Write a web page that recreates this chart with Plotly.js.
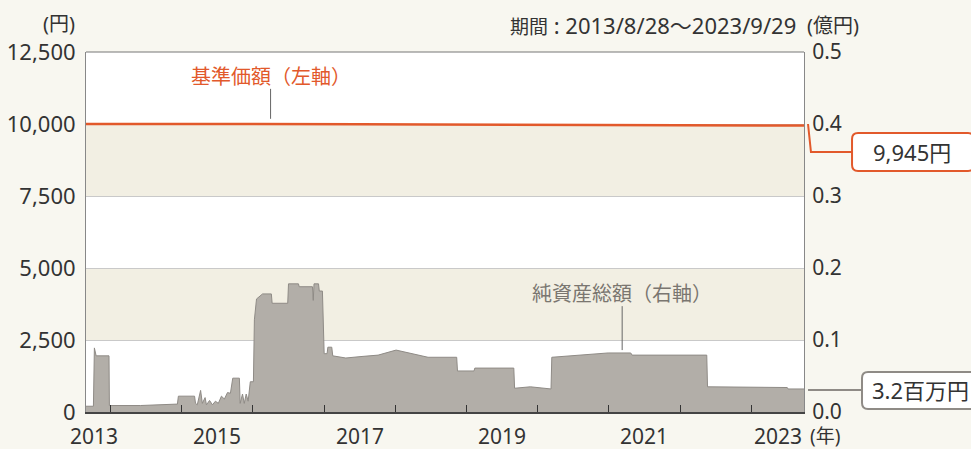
<!DOCTYPE html>
<html>
<head>
<meta charset="utf-8">
<script src="https://cdn.plot.ly/plotly-3.0.1.min.js"></script>
<style>
html,body{margin:0;padding:0;background:#f8f7f0;}
#chart{width:971px;height:449px;}
</style>
</head>
<body>
<div id="chart"></div>
<script>
// 基準価額 (円, left axis)
const navDates = ['2013-08-28','2014-06-30','2015-06-30','2016-06-30','2017-06-30','2018-06-30','2019-06-30','2020-06-30','2021-06-30','2022-06-30','2023-09-29'];
const navValues = [10000,10002,10005,10010,9995,9985,9978,9970,9965,9955,9945];

// 純資産総額 (億円, right axis)
const assetDates = ['2013-08-28','2013-10-05','2013-10-10','2013-10-19','2013-12-24','2013-12-26','2014-06-03','2014-12-10','2014-12-15','2015-03-08','2015-03-13','2015-03-22','2015-04-08','2015-04-17','2015-05-01','2015-05-08','2015-05-24','2015-06-08','2015-06-23','2015-07-08','2015-07-24','2015-08-08','2015-08-24','2015-09-08','2015-09-20','2015-10-24','2015-10-28','2015-11-09','2015-11-18','2015-11-28','2015-12-08','2015-12-19','2016-01-04','2016-01-09','2016-01-20','2016-02-20','2016-04-05','2016-04-09','2016-06-28','2016-07-02','2016-08-22','2016-08-26','2016-11-02','2016-11-06','2016-11-10','2016-12-03','2016-12-07','2016-12-23','2017-01-01','2017-01-16','2017-01-20','2017-02-09','2017-02-14','2017-04-22','2017-07-09','2017-10-05','2018-01-05','2018-06-18','2018-11-12','2018-11-16','2019-02-09','2019-02-13','2019-09-01','2019-09-05','2019-11-25','2020-02-23','2020-03-10','2020-03-14','2020-07-27','2020-12-28','2021-04-23','2021-04-30','2022-05-18','2022-05-22','2023-07-05','2023-07-09','2023-09-29'];
const assetValues = [0.008,0.008,0.089,0.078,0.078,0.009,0.009,0.011,0.022,0.022,0.012,0.010,0.030,0.012,0.020,0.010,0.016,0.010,0.015,0.012,0.022,0.018,0.027,0.026,0.047,0.047,0.012,0.025,0.012,0.025,0.015,0.042,0.042,0.128,0.157,0.164,0.164,0.151,0.151,0.178,0.178,0.174,0.174,0.155,0.178,0.178,0.168,0.168,0.081,0.081,0.090,0.090,0.078,0.075,0.077,0.079,0.086,0.076,0.076,0.057,0.057,0.061,0.061,0.033,0.035,0.032,0.032,0.076,0.079,0.082,0.082,0.079,0.079,0.035,0.034,0.032,0.032];

const yTicks = [0,2500,5000,7500,10000,12500];
const y2Ticks = [0,0.1,0.2,0.3,0.4,0.5];
const yearTicks = ['2014-01-01','2015-01-01','2016-01-01','2017-01-01','2018-01-01','2019-01-01','2020-01-01','2021-01-01','2022-01-01','2023-01-01'];
const xLabelPos = ['2013-10-10','2015-07-02','2017-07-02','2019-07-02','2021-07-02','2023-05-18'];
const xLabelText = ['2013','2015','2017','2019','2021','2023'];

const FONT = '"Noto Sans", "Noto Sans CJK JP", sans-serif';
const TXT = '#333333';
const ORANGE = '#e2592b';

const traces = [
  {x: navDates, y: navValues, type:'scatter', mode:'lines', yaxis:'y', xaxis:'x',
   line:{color:ORANGE, width:2.5}, hoverinfo:'skip'},
  {x: assetDates, y: assetValues, type:'scatter', mode:'lines', yaxis:'y2', xaxis:'x',
   fill:'tozeroy', fillcolor:'#b2aea8', line:{color:'#8f8b86', width:1}, hoverinfo:'skip'}
];

const annotations = [];
xLabelPos.forEach((d,i)=>annotations.push({x:d, xref:'x', y:-0.066, yref:'paper', text:xLabelText[i], showarrow:false, xanchor:'center', yanchor:'middle', font:{size:21, color:TXT, family:FONT}}));
annotations.push({x:1.0056, xref:'paper', y:-0.068, yref:'paper', text:'(年)', showarrow:false, xanchor:'left', yanchor:'middle', font:{size:19, color:TXT, family:FONT}});
annotations.push({x:-0.0125, xref:'paper', y:1.08, yref:'paper', text:'(円)', showarrow:false, xanchor:'right', yanchor:'middle', font:{size:20, color:TXT, family:FONT}});
annotations.push({x:0.5877, xref:'paper', y:1.075, yref:'paper', text:'<span style="font-size:19px">期間</span> : 2013/8/28〜2023/9/29', showarrow:false, xanchor:'left', yanchor:'middle', font:{size:22, color:TXT, family:FONT}});
annotations.push({x:1.0015, xref:'paper', y:1.075, yref:'paper', text:'(億円)', showarrow:false, xanchor:'left', yanchor:'middle', font:{size:20, color:TXT, family:FONT}});
annotations.push({x:'2016-04-01', xref:'x', y:11650, yref:'y', text:'基準価額（左軸）', showarrow:false, xanchor:'center', yanchor:'middle', font:{size:20, color:ORANGE, family:FONT}});
annotations.push({x:'2021-03-10', xref:'x', y:0.165, yref:'y2', text:'純資産総額（右軸）', showarrow:false, xanchor:'center', yanchor:'middle', font:{size:20, color:'#7a7670', family:FONT}});
annotations.push({x:1.150, xref:'paper', y:0.722, yref:'paper', text:'9,945円', showarrow:false, xanchor:'center', yanchor:'middle', font:{size:22, color:TXT, family:FONT}});
annotations.push({x:1.0919, xref:'paper', y:0.0611, yref:'paper', text:'3.2百万円', showarrow:false, xanchor:'left', yanchor:'middle', font:{size:22, color:TXT, family:FONT}});

function rrect(x0,y0,x1,y1,rx,ry){
  return `M ${x0+rx},${y1} L ${x1-rx},${y1} Q ${x1},${y1} ${x1},${y1-ry} L ${x1},${y0+ry} Q ${x1},${y0} ${x1-rx},${y0} L ${x0+rx},${y0} Q ${x0},${y0} ${x0},${y0+ry} L ${x0},${y1-ry} Q ${x0},${y1} ${x0+rx},${y1} Z`;
}
const rx = 6/718, ry = 6/360;

const shapes = [
  {type:'rect', xref:'paper', x0:0, x1:1, yref:'y', y0:7500, y1:10000, fillcolor:'#f2efe3', line:{width:0}, layer:'below'},
  {type:'rect', xref:'paper', x0:0, x1:1, yref:'y', y0:2500, y1:5000, fillcolor:'#f2efe3', line:{width:0}, layer:'below'},
  {type:'line', xref:'x', x0:'2016-04-01', x1:'2016-04-01', yref:'y', y0:10180, y1:11220, line:{color:'#666', width:1}},
  {type:'line', xref:'x', x0:'2021-03-10', x1:'2021-03-10', yref:'y2', y0:0.086, y1:0.147, line:{color:'#666', width:1}},
  {type:'path', xref:'paper', yref:'paper', path:'M 1.0056,0.8 L 1.0097,0.7222 L 1.0669,0.7222', line:{color:ORANGE, width:2}},
  {type:'path', xref:'paper', yref:'paper', path:rrect(1.0669,0.6694,1.2368,0.775,rx,ry), line:{color:ORANGE, width:2}, fillcolor:'#ffffff'},
  {type:'line', xref:'paper', yref:'paper', x0:1.0056, x1:1.0808, y0:0.0611, y1:0.0611, line:{color:'#8f8b86', width:2}},
  {type:'path', xref:'paper', yref:'paper', path:rrect(1.0808,0.0083,1.26,0.1111,rx,ry), line:{color:'#8f8b86', width:2}, fillcolor:'#ffffff'},
  {type:'line', xref:'paper', yref:'paper', x0:0, x1:1, y0:1, y1:1, line:{color:'#777', width:1}}
];

const layout = {
  width:971, height:449,
  margin:{l:86, r:167, t:52, b:37},
  paper_bgcolor:'#f8f7f0', plot_bgcolor:'#ffffff',
  showlegend:false,
  font:{family:FONT, color:TXT},
  xaxis:{type:'date', range:['2013-08-28','2023-09-29'], tickvals:yearTicks, showticklabels:false,
    ticks:'inside', ticklen:7, tickcolor:'#333', tickwidth:1, showgrid:false, zeroline:false,
    showline:true, linecolor:'#444', linewidth:1.5, mirror:false, fixedrange:true},
  yaxis:{range:[0,12500], tickvals:yTicks, tickformat:',d', showgrid:true, gridcolor:'#c9c9c9', gridwidth:1,
    zeroline:false, showline:true, linecolor:'#888', linewidth:1, ticks:'', ticklabelstandoff:5,
    tickfont:{size:22, color:TXT, family:FONT}, fixedrange:true},
  yaxis2:{range:[0,0.5], tickvals:y2Ticks, tickformat:'.1f', overlaying:'y', side:'right', showgrid:false,
    zeroline:false, showline:true, linecolor:'#888', linewidth:1, ticks:'', ticklabelstandoff:3,
    tickfont:{size:21, color:TXT, family:FONT}, fixedrange:true},
  shapes:shapes,
  annotations:annotations
};

Plotly.newPlot('chart', traces, layout, {staticPlot:true, displayModeBar:false});
</script>
</body>
</html>
